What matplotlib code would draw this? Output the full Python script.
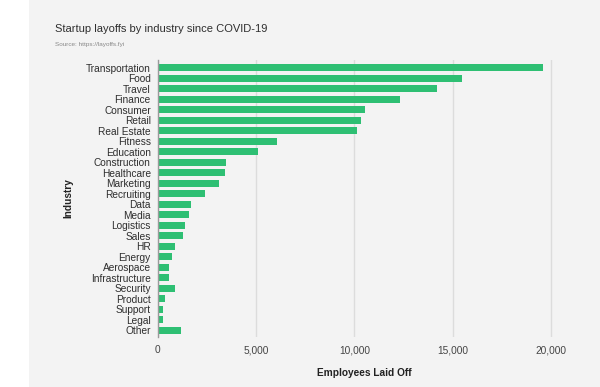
import matplotlib.pyplot as plt
from matplotlib.patches import Rectangle

industries = ["Transportation", "Food", "Travel", "Finance", "Consumer", "Retail",
              "Real Estate", "Fitness", "Education", "Construction", "Healthcare",
              "Marketing", "Recruiting", "Data", "Media", "Logistics", "Sales", "HR",
              "Energy", "Aerospace", "Infrastructure", "Security", "Product",
              "Support", "Legal", "Other"]
laid_off = [19600, 15500, 14200, 12300, 10560, 10340, 10140, 6080, 5100, 3490,
            3420, 3100, 2390, 1690, 1610, 1390, 1300, 860, 710, 590, 560, 860,
            360, 290, 250, 1190]
xticks = [0, 5000, 10000, 15000, 20000]
xtick_labels = ["0", "5,000", "10,000", "15,000", "20,000"]

plt.rcParams["font.family"] = ["Liberation Sans", "DejaVu Sans"]

bg = "#f3f3f3"
fig = plt.figure(figsize=(6, 3.87), dpi=100)
fig.patch.set_facecolor("white")
fig.patches.append(Rectangle((29 / 600, 0), 1, 1, transform=fig.transFigure,
                             facecolor=bg, edgecolor="none", zorder=-10))

# axes in pixel coords: left 157.7, right 570.6, top 60, bottom 337
ax = fig.add_axes([157.7 / 600, 1 - 337 / 387, (570.6 - 157.7) / 600, (337 - 60) / 387])
ax.set_facecolor(bg)

y = list(range(len(industries)))
ax.barh(y, laid_off, height=0.68, color="#2ebf73", zorder=3)
ax.set_ylim(len(industries) - 0.35, -0.75)
ax.set_xlim(0, 21000)

ax.set_yticks(y)
ax.set_yticklabels(industries, fontsize=7.3, color="#2e2e2e")
ax.set_xticks(xticks)
ax.set_xticklabels(xtick_labels, fontsize=7.3, color="#444444")
ax.tick_params(axis="y", length=0, pad=5)
ax.tick_params(axis="x", length=0, pad=6)
ax.grid(axis="x", color="#dcdcdc", linewidth=1, zorder=0)

for s in ["top", "right", "bottom"]:
    ax.spines[s].set_visible(False)
ax.spines["left"].set_color("#9a9a9a")
ax.spines["left"].set_linewidth(1)
ax.spines["left"].set_zorder(4)

ax.set_xlabel("Employees Laid Off", fontsize=7.3, fontweight="bold", color="#222222", labelpad=9)
ax.set_ylabel("Industry", fontsize=7.3, fontweight="bold", color="#222222", labelpad=9)

fig.text(55 / 600, 1 - 29.5 / 387, "Startup layoffs by industry since COVID-19",
         fontsize=8, color="#2e2e2e", va="center", ha="left")
fig.text(55 / 600, 1 - 44.5 / 387, "Source: https://layoffs.fyi",
         fontsize=4.6, color="#888888", va="center", ha="left")

fig.savefig("out.png", dpi=100, facecolor=fig.get_facecolor())
